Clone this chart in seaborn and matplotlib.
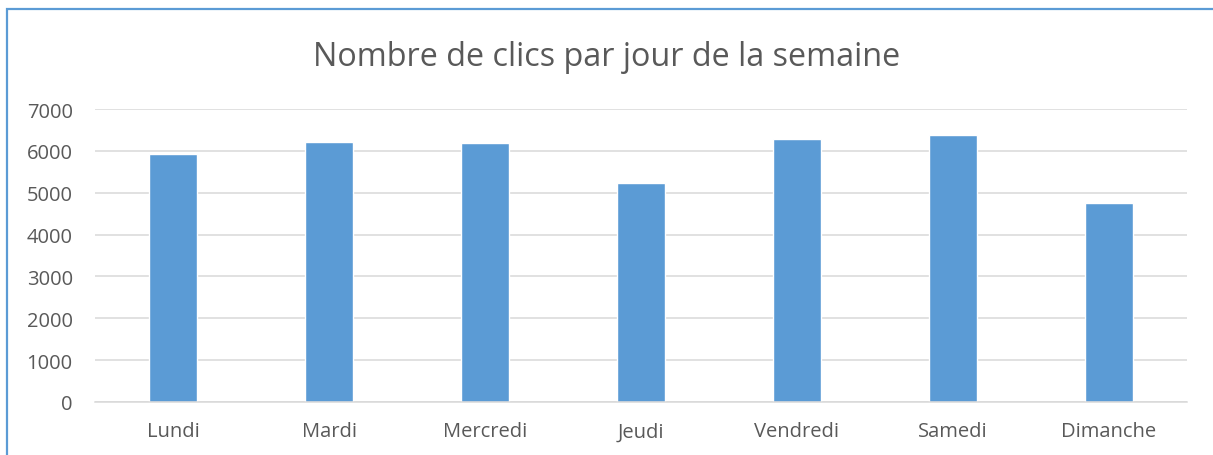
import pandas as pd
import seaborn as sns
import matplotlib.pyplot as plt
from matplotlib.patches import Rectangle

jours = ["Lundi", "Mardi", "Mercredi", "Jeudi", "Vendredi", "Samedi", "Dimanche"]
clics = [5930, 6200, 6190, 5230, 6290, 6380, 4750]
y_ticks = [0, 1000, 2000, 3000, 4000, 5000, 6000, 7000]

df = pd.DataFrame({"Jour": jours, "Clics": clics})

sns.set_theme(style="white")
plt.rcParams['font.family'] = ['Open Sans', 'DejaVu Sans']

fig = plt.figure(figsize=(12.13, 4.56), dpi=100)
ax = fig.add_axes([95 / 1213, 1 - 403 / 456, (1187 - 95) / 1213, (403 - 110) / 456])

ax.yaxis.grid(True, color='#D9D9D9', linewidth=1.1)
ax.set_axisbelow(True)
sns.barplot(x="Jour", y="Clics", data=df, color='#5B9BD5', saturation=1, width=0.31, ax=ax)

ax.set_ylim(0, 7000)
ax.set_yticks(y_ticks)
ax.set_xlim(-0.5, len(jours) - 0.5)
ax.set_xlabel("")
ax.set_ylabel("")
for side in ['top', 'right', 'left']:
    ax.spines[side].set_visible(False)
ax.spines['bottom'].set_color('#D9D9D9')
ax.spines['bottom'].set_linewidth(1.1)
ax.tick_params(axis='y', length=0, pad=16, labelsize=14.5, labelcolor='#595959')
ax.tick_params(axis='x', length=0, pad=14, labelsize=14.5, labelcolor='#595959')

fig.text(0.5, 1 - 57 / 456, "Nombre de clics par jour de la semaine",
         ha='center', va='center', fontsize=23.3, color='#595959')

# cadre bleu autour du graphique
fig.patches.append(Rectangle((7 / 1213, -0.1), 1.2, 1 - 10 / 456 + 0.1,
                             transform=fig.transFigure, fill=False,
                             edgecolor='#5B9BD5', linewidth=1.6))

fig.savefig('out.png', dpi=100)
